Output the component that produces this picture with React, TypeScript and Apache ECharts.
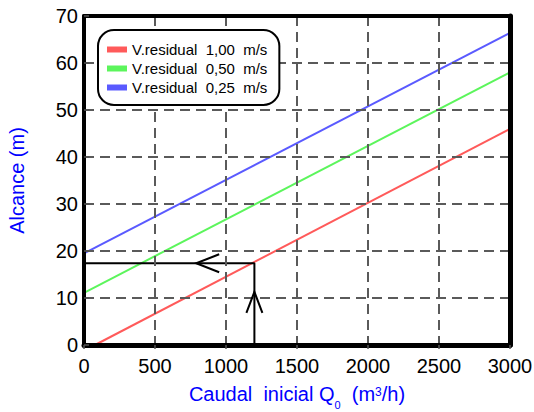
import React, { useEffect, useRef } from 'react';
import * as echarts from 'echarts';

// ---- data ----
const seriesNames = ['V.residual  1,00  m/s', 'V.residual  0,50  m/s', 'V.residual  0,25  m/s'];
const seriesColors = ['#ff5a5a', '#5cf55c', '#5a5aff'];

const redQ = [77, 3000];
const redAlcance = [0, 46.0];
const greenQ = [0, 3000];
const greenAlcance = [11.1, 58.0];
const blueQ = [0, 3000];
const blueAlcance = [19.5, 66.4];

// reading guide (Q0 = 1200 m3/h -> alcance about 17.4 m)
const guideQ = [1200, 1200, 0];
const guideAlcance = [0, 17.4, 17.4];

// arrow heads along the guide
const arrowQ = [1200, 790];
const arrowAlcance = [11.3, 17.4];
const arrowDir = [0, 1]; // 0 = up, 1 = left

const xMin = 0, xMax = 3000, xStep = 500;
const yMin = 0, yMax = 70, yStep = 10;

const FONT = '"Liberation Sans", Arial, sans-serif';

const zip = (a: number[], b: number[]) => a.map((v, i) => [v, b[i]]);

export default function App() {
  const ref = useRef<HTMLDivElement>(null);
  useEffect(() => {
    if (!ref.current) return;
    const chart = echarts.init(ref.current, null, { renderer: 'svg' });
    const lineData = [zip(redQ, redAlcance), zip(greenQ, greenAlcance), zip(blueQ, blueAlcance)];
    const gridLine = { show: true, lineStyle: { color: '#5a5a5a', width: 2, type: [10, 6] as any } };
    const frameLine = (w: number) => ({ show: true, onZero: false, lineStyle: { color: '#000', width: w } });
    const blueText = { color: '#0000ff', fontFamily: FONT };
    chart.setOption({
      animation: false,
      textStyle: { fontFamily: FONT },
      grid: {
        left: 84, right: 24, top: 16, bottom: 67,
        outerBoundsMode: 'none',
        containLabel: false,
        show: true, borderWidth: 0, backgroundColor: '#fff',
      },
      legend: {
        orient: 'vertical',
        left: 98, top: 30,
        z: 30, zlevel: 0,
        data: seriesNames,
        icon: 'rect',
        itemWidth: 20, itemHeight: 6, itemGap: 4,
        backgroundColor: '#fff',
        borderColor: '#000', borderWidth: 2, borderRadius: 16,
        padding: [12, 12, 10, 9],
        textStyle: { fontSize: 15, color: '#000', fontFamily: FONT },
      },
      xAxis: [
        {
          type: 'value', min: xMin, max: xMax, interval: xStep,
          axisLine: frameLine(5),
          axisTick: { show: true, length: 4, lineStyle: { color: '#555', width: 1.5 } },
          axisLabel: { fontSize: 20, color: '#000', margin: 11, fontFamily: FONT, formatter: (v: number) => String(v) },
          splitLine: gridLine,
          name: '{n|Caudal  inicial Q}{sub|0}{n|  (m}{sup|3}{n|/h)}',
          nameLocation: 'middle',
          nameGap: 37,
          nameTextStyle: {
            ...blueText, fontSize: 20,
            rich: {
              n: { ...blueText, fontSize: 20, lineHeight: 24, verticalAlign: 'middle' },
              sub: { ...blueText, fontSize: 11, lineHeight: 8, verticalAlign: 'bottom', padding: [0, 0, -4, 0] },
              sup: { ...blueText, fontSize: 12, lineHeight: 12, verticalAlign: 'top', padding: [4, 0, 0, 0] },
            },
          },
          z: 5,
        },
        {
          type: 'value', min: xMin, max: xMax, interval: xStep, position: 'top',
          axisLine: frameLine(4),
          axisTick: { show: false }, axisLabel: { show: false }, splitLine: { show: false },
          z: 5,
        },
      ],
      yAxis: [
        {
          type: 'value', min: yMin, max: yMax, interval: yStep,
          axisLine: frameLine(4),
          axisTick: { show: true, inside: true, length: 5, lineStyle: { color: '#555', width: 1.5 } },
          axisLabel: { fontSize: 20, color: '#000', margin: 6, fontFamily: FONT, padding: [6, 0, 0, 0] },
          splitLine: gridLine,
          name: 'Alcance (m)',
          nameLocation: 'middle',
          nameGap: 57,
          nameTextStyle: { ...blueText, fontSize: 20 },
          z: 5,
        },
        {
          type: 'value', min: yMin, max: yMax, interval: yStep, position: 'right',
          axisLine: frameLine(5),
          axisTick: { show: false }, axisLabel: { show: false }, splitLine: { show: false },
          z: 5,
        },
      ],
      series: [
        ...seriesNames.map((name, i) => ({
          name,
          type: 'line',
          data: lineData[i],
          symbol: 'none',
          clip: true,
          lineStyle: { color: seriesColors[i], width: 2 },
          itemStyle: { color: seriesColors[i] },
          z: 3,
        })),
        {
          name: 'guide',
          type: 'line',
          data: zip(guideQ, guideAlcance),
          symbol: 'none',
          lineStyle: { color: '#000', width: 2 },
          z: 4,
        },
        {
          name: 'arrows',
          type: 'custom',
          data: arrowQ.map((q, i) => [q, arrowAlcance[i], arrowDir[i]]),
          renderItem: (params: any, api: any) => {
            const p = api.coord([api.value(0), api.value(1)]);
            const dir = api.value(2);
            const pts = dir === 0
              ? [[p[0] - 8, p[1] + 21], [p[0], p[1]], [p[0] + 8, p[1] + 21]]
              : [[p[0] + 23, p[1] - 9], [p[0], p[1]], [p[0] + 23, p[1] + 9]];
            return {
              type: 'polyline',
              shape: { points: pts },
              style: { stroke: '#000', lineWidth: 2, fill: 'none' },
            };
          },
          z: 5,
        },
      ],
    });
    return () => chart.dispose();
  }, []);
  return <div ref={ref} style={{ position: 'fixed', left: 0, top: 0, width: 534, height: 412, background: '#fff' }} />;
}
